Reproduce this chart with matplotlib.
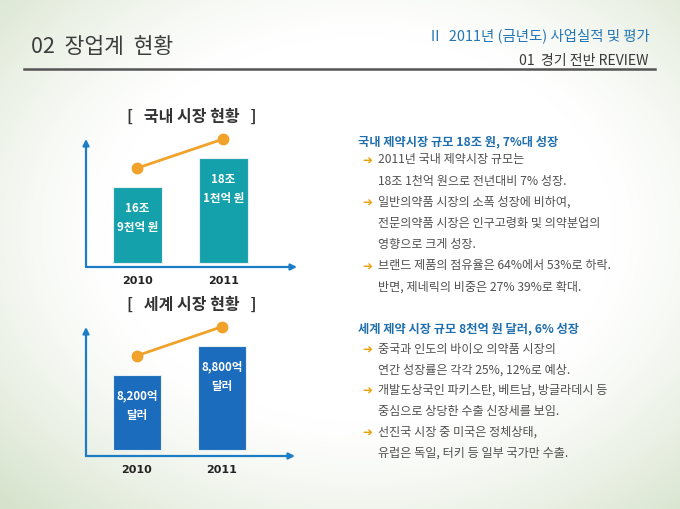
import numpy as np
import matplotlib
matplotlib.use('Agg')
import matplotlib.pyplot as plt

plt.rcParams['font.family'] = ['Noto Sans CJK KR', 'DejaVu Sans']

# ---------------- data ----------------
years = ['2010', '2011']
domestic_values = [16.9, 18.1]          # 조 원
domestic_labels = [('16조', '9천억 원'), ('18조', '1천억 원')]
global_values = [8200, 8800]            # 억 달러
global_labels = [('8,200억', '달러'), ('8,800억', '달러')]

page_title = '02  장업계  현황'
header_main = 'Ⅱ  2011년 (금년도) 사업실적 및 평가'
header_sub = '01  경기 전반 REVIEW'
chart_titles = ['[   국내 시장 현황   ]', '[   세계 시장 현황   ]']

domestic_heading = '국내 제약시장 규모 18조 원, 7%대 성장'
domestic_bullets = [
    ['2011년 국내 제약시장 규모는', '18조 1천억 원으로 전년대비 7% 성장.'],
    ['일반의약품 시장의 소폭 성장에 비하여,', '전문의약품 시장은 인구고령화 및 의약분업의', '영향으로 크게 성장.'],
    ['브랜드 제품의 점유율은 64%에서 53%로 하락.', '반면, 제네릭의 비중은 27% 39%로 확대.'],
]
global_heading = '세계 제약 시장 규모 8천억 원 달러, 6% 성장'
global_bullets = [
    ['중국과 인도의 바이오 의약품 시장의', '연간 성장률은 각각 25%, 12%로 예상.'],
    ['개발도상국인 파키스탄, 베트남, 방글라데시 등', '중심으로 상당한 수출 신장세를 보임.'],
    ['선진국 시장 중 미국은 정체상태,', '유럽은 독일, 터키 등 일부 국가만 수출.'],
]

# ---------------- figure ----------------
W, H = 680, 510
fig = plt.figure(figsize=(6.8, 5.1), dpi=100)

def fx(x):
    return x / W

def fy(y):
    return 1 - y / H

# soft background
bg = fig.add_axes([0, 0, 1, 1], zorder=-10)
yy, xx = np.mgrid[0:H, 0:W]
d = np.sqrt(((xx - 360) / 420.0) ** 2 + ((yy - 230) / 320.0) ** 2)
w = np.clip((d - 0.6) / 0.6, 0, 1) ** 1.3
white = np.array([1.0, 1.0, 1.0])
green = np.array([0.84, 0.89, 0.80])
img = white[None, None, :] * (1 - w[..., None]) + green[None, None, :] * w[..., None]
bg.imshow(img, extent=[0, 1, 0, 1], aspect='auto')
bg.axis('off')

# header
fig.text(fx(31), fy(47), page_title, fontsize=15.5, color='#3c3c3c', va='center', ha='left')
fig.text(fx(650), fy(36), header_main, fontsize=10.4, color='#2476b4', va='center', ha='right')
fig.text(fx(648), fy(61), header_sub, fontsize=10.1, color='#3a3a3a', va='center', ha='right')
fig.add_artist(plt.Line2D([fx(24), fx(655)], [fy(70), fy(70)], color='#555555', lw=1.8))

AXIS_COLOR = '#1d7cc6'
LINE_COLOR = '#f0a22a'

def draw_chart(rect_px, values, labels, bar_color, base, ylo, yhi, shift, title, title_y):
    left, top, right, bottom = rect_px
    ax = fig.add_axes([fx(left), fy(bottom), (right - left) / W, (bottom - top) / H])
    ax.patch.set_alpha(0)
    x = np.arange(len(values))
    vals = np.array(values, dtype=float)
    ax.bar(x, vals - base, bottom=base, width=0.57, color=bar_color,
           edgecolor='#e8eef2', linewidth=0.8, zorder=2)
    ax.set_xlim(-0.60, 1.86)
    ax.set_ylim(ylo, yhi)
    for s in ax.spines.values():
        s.set_visible(False)
    ax.set_yticks([])
    ax.set_xticks(x)
    ax.set_xticklabels(years, fontsize=8, fontweight='bold', color='#222222',
                       family=['DejaVu Sans'])
    ax.tick_params(axis='x', length=0, pad=6)
    # axes arrows
    arrow = dict(arrowstyle='-|>', color=AXIS_COLOR, lw=1.6, mutation_scale=9,
                 shrinkA=0, shrinkB=0)
    ax.annotate('', xy=(0, 1), xytext=(0, 0), xycoords='axes fraction', arrowprops=arrow)
    ax.annotate('', xy=(1, 0), xytext=(0, 0), xycoords='axes fraction', arrowprops=arrow)
    # labels inside bars
    for xi, v, (l1, l2) in zip(x, vals, labels):
        ax.annotate(l1, xy=(xi, v), xytext=(0, -20), textcoords='offset pixels',
                    ha='center', va='center', color='white', fontsize=8.3, fontweight='bold')
        ax.annotate(l2, xy=(xi, v), xytext=(0, -39), textcoords='offset pixels',
                    ha='center', va='center', color='white', fontsize=8.3, fontweight='bold')
    # trend line
    ax2 = ax.twinx()
    ax2.set_ylim(ylo - shift, yhi - shift)
    ax2.axis('off')
    ax2.plot(x, vals, color=LINE_COLOR, lw=2, marker='o', ms=7.5,
             markerfacecolor=LINE_COLOR, markeredgecolor=LINE_COLOR, clip_on=False, zorder=5)
    fig.text(fx(192), fy(title_y), title, fontsize=11.5, fontweight='bold',
             color='#333333', ha='center', va='center')
    return ax

draw_chart((86, 140, 297, 268), domestic_values, domestic_labels, '#15a1ab',
           base=13.76, ylo=13.6, yhi=18.9, shift=0.8, title=chart_titles[0], title_y=117)
draw_chart((86, 328, 295, 457), global_values, global_labels, '#1b6cbc',
           base=6647, ylo=6523, yhi=9194, shift=400, title=chart_titles[1], title_y=305)

# right text blocks
def draw_block(heading, bullets, y_head, y0, step):
    fig.text(fx(358), fy(y_head), heading, fontsize=8.8, fontweight='bold',
             color='#1f6fae', ha='left', va='center')
    y = y0
    for b in bullets:
        fig.text(fx(362), fy(y), '➔', fontsize=8.5, fontweight='bold', color='#f0a000',
                 ha='left', va='center', family=['DejaVu Sans'])
        for line in b:
            fig.text(fx(378), fy(y), line, fontsize=8.7, color='#505050',
                     ha='left', va='center')
            y += step

draw_block(domestic_heading, domestic_bullets, 142, 160, 21.2)
draw_block(global_heading, global_bullets, 329, 349, 20.8)

fig.savefig('out.png', dpi=100)
